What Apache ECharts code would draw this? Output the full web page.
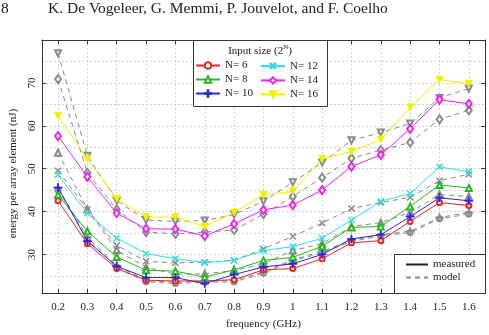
<!DOCTYPE html>
<html><head><meta charset="utf-8">
<script src="https://cdn.jsdelivr.net/npm/echarts@6/dist/echarts.min.js"></script>
<style>html,body{margin:0;padding:0;background:#fff}#c{width:489px;height:335px}</style>
</head><body><div id="c"></div>
<script>
const freqs = [0.2,0.3,0.4,0.5,0.6,0.7,0.8,0.9,1.0,1.1,1.2,1.3,1.4,1.5,1.6];
const xTickValues = [0.2,0.3,0.4,0.5,0.6,0.7,0.8,0.9,1.0,1.1,1.2,1.3,1.4,1.5,1.6];
const yTickValues = [30,40,50,60,70];

const measN6  = [42.5,32.5,26.7,24.0,23.8,23.8,24.1,26.4,26.7,29.0,32.7,33.2,37.7,42.1,41.4];
const measN8  = [43.9,35.4,29.4,26.3,26.1,24.7,26.4,28.6,29.3,31.9,36.3,36.5,41.2,46.2,45.5];
const measN10 = [45.6,33.1,27.2,24.6,24.6,23.2,25.3,27.1,27.8,30.0,33.6,34.6,38.8,43.2,42.5];
const measN12 = [48.6,39.6,33.8,30.2,29.0,28.1,28.6,30.9,31.8,33.8,38.0,42.4,44.2,50.4,49.3];
const measN14 = [57.6,48.1,39.6,36.0,35.9,34.3,37.1,40.4,41.5,45.0,50.5,53.2,59.3,66.1,65.1];
const measN16 = [62.3,52.3,43.0,38.7,38.7,36.5,39.8,43.9,44.7,52.3,54.0,56.8,64.3,70.8,69.8];

const modelN6  = [45.0,33.5,27.0,23.6,23.2,23.5,23.6,25.6,28.5,30.4,33.0,34.3,35.1,38.3,39.4];
const modelN8  = [53.7,40.5,31.0,27.0,25.4,25.5,26.2,27.8,30.9,32.5,36.5,37.4,39.8,44.0,43.5];
const modelN10 = [45.5,34.0,27.4,23.9,23.5,23.8,23.9,25.9,28.8,30.7,33.3,34.6,35.4,38.6,39.8];
const modelN12 = [49.5,40.5,32.1,28.4,28.0,28.2,28.6,31.3,34.2,37.3,40.7,42.1,43.3,47.2,48.7];
const modelN14 = [70.9,49.0,40.5,35.2,34.8,35.2,35.7,39.4,43.5,47.9,52.4,54.3,56.1,61.5,63.6];
const modelN16 = [76.9,53.0,42.5,38.0,37.7,37.9,39.3,42.4,46.8,51.4,56.6,58.4,60.5,66.5,68.7];

const names = ['N= 6','N= 8','N= 10','N= 12','N= 14','N= 16'];
const colors = ['#ee2222','#22bb22','#2525e8','#30e0e0','#ee22ee','#f0f000'];

const F = 'Liberation Serif';
const TXT = '#222';
const PLUS = 'path://M-0.5,-5L0.5,-5L0.5,-0.5L5,-0.5L5,0.5L0.5,0.5L0.5,5L-0.5,5L-0.5,0.5L-5,0.5L-5,-0.5L-0.5,-0.5Z';

const pairs = arr => freqs.map((f,i)=>[f,arr[i]]);
const measured = [measN6,measN8,measN10,measN12,measN14,measN16];
const models = [modelN6,modelN8,modelN10,modelN12,modelN14,modelN16];
const syms = [
  {m:{symbol:'emptyCircle',size:5},g:{symbol:'emptyCircle',size:5}},
  {m:{symbol:'emptyTriangle',size:6},g:{symbol:'emptyTriangle',size:6}},
  {m:{symbol:PLUS,size:8},g:{symbol:PLUS,size:8}},
  {m:{symbol:PLUS,size:8,rotate:45},g:{symbol:PLUS,size:8,rotate:45}},
  {m:{symbol:'emptyDiamond',size:[6,8]},g:{symbol:'emptyDiamond',size:[6,8]}},
  {m:{symbol:'triangle',size:7,rotate:180},g:{symbol:'emptyTriangle',size:6,rotate:180}}
];

const series = [];
models.forEach((arr,i)=>{
  series.push({
    name: names[i]+' model', type:'line', data: pairs(arr),
    symbol: syms[i].g.symbol, symbolSize: syms[i].g.size, symbolRotate: syms[i].g.rotate||0,
    lineStyle:{color:'#8a8a8a', width:1, type:[5,4]},
    itemStyle:{color:'#8a8a8a', borderColor:'#8a8a8a', borderWidth:0.9},
    z:2, silent:true
  });
});
measured.forEach((arr,i)=>{
  series.push({
    name: names[i], type:'line', data: pairs(arr),
    symbol: syms[i].m.symbol, symbolSize: syms[i].m.size, symbolRotate: syms[i].m.rotate||0,
    lineStyle:{color:colors[i], width:1},
    itemStyle:{color:colors[i], borderColor:colors[i], borderWidth:0.9},
    z:3, silent:true
  });
});
series.push({name:'measured', type:'line', data:[], symbol:'none', lineStyle:{color:'#222', width:1}, itemStyle:{color:'#222'}});
series.push({name:'model', type:'line', data:[], symbol:'none', lineStyle:{color:'#888', width:1, type:[5,4]}, itemStyle:{color:'#888'}});

const axisLineStyle = {color:'#333', width:1};
const gridLine = {show:true, lineStyle:{color:'#c4c4c4', width:0.8, type:[2,2]}};
const near = (v, list) => list.some(t => Math.abs(t - v) < 1e-6);

const xCommon = {type:'value', min:0.145, max:1.655, splitNumber:15};
const yCommon = {type:'value', min:21, max:80};

const legendText = {fontFamily:F, fontSize:11, color:TXT};

const option = {
  animation:false,
  backgroundColor:'#fff',
  grid:{left:36, right:4, top:40, bottom:42, containLabel:false},
  xAxis:[
    Object.assign({}, xCommon, {
      position:'bottom',
      axisLine:{show:true, onZero:false, lineStyle:axisLineStyle},
      axisTick:{show:true, inside:true, length:4, lineStyle:axisLineStyle},
      axisLabel:{formatter: v => near(v, xTickValues) ? String(Math.round(v*10)/10) : '', fontFamily:F, fontSize:11, color:TXT, margin:9},
      splitLine:gridLine,
      name:'frequency (GHz)', nameLocation:'middle', nameGap:26,
      nameTextStyle:{fontFamily:F, fontSize:11, color:TXT}
    }),
    Object.assign({}, xCommon, {
      position:'top',
      axisLine:{show:true, onZero:false, lineStyle:axisLineStyle},
      axisTick:{show:true, inside:true, length:4, lineStyle:axisLineStyle},
      axisLabel:{show:false}, splitLine:{show:false}
    })
  ],
  yAxis:[
    Object.assign({}, yCommon, {
      position:'left', splitNumber:12,
      axisLine:{show:true, onZero:false, lineStyle:axisLineStyle},
      axisTick:{show:false},
      axisLabel:{formatter: v => near(v, yTickValues) ? String(Math.round(v)) : '', rotate:90, fontFamily:F, fontSize:11, color:TXT, margin:4},
      splitLine:gridLine,
      name:'energy per array element (nJ)', nameLocation:'middle', nameGap:19,
      nameTextStyle:{fontFamily:F, fontSize:11, color:TXT, padding:[0,14,0,0]}
    }),
    Object.assign({}, yCommon, {
      position:'right', splitNumber:6,
      axisLine:{show:true, onZero:false, lineStyle:axisLineStyle},
      axisTick:{show:true, inside:true, length:4, lineStyle:axisLineStyle},
      axisLabel:{show:false}, splitLine:{show:false}
    }),
    Object.assign({}, yCommon, {
      position:'left', splitNumber:6,
      axisLine:{show:false},
      axisTick:{show:true, inside:true, length:4, lineStyle:axisLineStyle},
      axisLabel:{show:false}, splitLine:{show:false}
    })
  ],
  legend:[
    {data:names.slice(0,3), orient:'vertical', left:195, top:60, itemWidth:24, itemHeight:8, itemGap:3, selectedMode:false, textStyle:legendText, padding:0, z:10},
    {data:names.slice(3,6), orient:'vertical', left:260, top:60, itemWidth:24, itemHeight:8, itemGap:3, selectedMode:false, textStyle:legendText, padding:0, z:10},
    {data:[{name:'measured', itemStyle:{opacity:0}},{name:'model', itemStyle:{opacity:0}}], orient:'vertical', left:405, top:259, itemWidth:22, itemHeight:8, itemGap:2, selectedMode:false, textStyle:legendText, padding:0, z:10}
  ],
  graphic:[
    {type:'text', left:1, top:1, z:10, style:{text:'8', font:'15.5px "Liberation Serif"', fill:TXT}},
    {type:'text', left:48, top:1, z:10, style:{text:'K. De Vogeleer, G. Memmi, P. Jouvelot, and F. Coelho', font:'15.5px "Liberation Serif"', fill:TXT}},
    {type:'rect', z:5, shape:{x:193.5, y:40.5, width:134, height:66}, style:{fill:'#fff', stroke:'#333', lineWidth:1}},
    {type:'text', z:10, x:260, y:51, style:{text:'Input size (2{s|N})', rich:{s:{fontSize:7, fontFamily:F, fill:TXT, verticalAlign:'top', lineHeight:8}}, font:'11px "Liberation Serif"', fill:TXT, align:'center', verticalAlign:'middle', lineHeight:14}},
    {type:'rect', z:5, shape:{x:394.5, y:254.5, width:91, height:39}, style:{fill:'#fff', stroke:'#333', lineWidth:1}}
  ],
  series: series
};
const chart = echarts.init(document.getElementById('c'), null, {renderer:'canvas'});
chart.setOption(option);
</script></body></html>
